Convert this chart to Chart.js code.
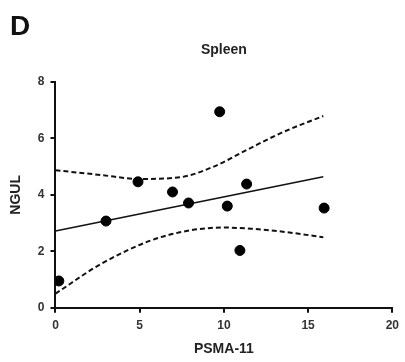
<!DOCTYPE html>
<html lang="en">
<head>
    <meta charset="UTF-8">
    <title>Spleen</title>
    <script src="https://cdn.jsdelivr.net/npm/chart.js"></script>
    <style>
        body {
            margin: 0;
            background: #fff;
            font-family: "Liberation Sans", Arial, sans-serif;
        }
        .wrap {
            position: relative;
            width: 405px;
            height: 362px;
        }
        .panel {
            position: absolute;
            left: 10px;
            top: 10px;
            font-size: 28px;
            font-weight: bold;
            color: #111;
        }
    </style>
</head>
<body>
    <div class="wrap">
        <canvas id="scatter" width="405" height="362"></canvas>
        <div class="panel">D</div>
    </div>

    <script>
        // measured points
        const psma = [0.2, 3.0, 4.9, 6.95, 7.9, 9.75, 10.2, 11.35, 10.95, 15.95];
        const ngul = [0.95, 3.07, 4.46, 4.1, 3.71, 6.94, 3.6, 4.38, 2.03, 3.53];

        // fitted line
        const fitX = [0, 15.9];
        const fitY = [2.72, 4.64];

        // 95% band
        const upperX = [0, 2.7, 5.0, 7.4, 9.4, 11.4, 13.4, 15.9];
        const upperY = [4.87, 4.7, 4.56, 4.62, 5.0, 5.6, 6.19, 6.79];
        const lowerX = [0, 2.7, 5.65, 8.0, 10.0, 11.6, 13.4, 15.9];
        const lowerY = [0.5, 1.55, 2.38, 2.74, 2.84, 2.8, 2.7, 2.5];

        const xTicks = [0, 5, 10, 15, 20];
        const yTicks = [0, 2, 4, 6, 8];

        function pairs(xs, ys) {
            return xs.map((x, i) => ({ x: x, y: ys[i] }));
        }

        const tickFont = { family: "Liberation Sans", size: 12, weight: 'bold' };
        const titleFont = { family: "Liberation Sans", size: 14, weight: 'bold' };

        new Chart(document.getElementById('scatter'), {
            type: 'scatter',
            data: {
                datasets: [
                    {
                        data: pairs(psma, ngul),
                        backgroundColor: '#000',
                        borderColor: '#000',
                        pointRadius: 5
                    },
                    {
                        data: pairs(fitX, fitY),
                        showLine: true,
                        borderColor: '#111',
                        borderWidth: 1.6,
                        pointRadius: 0
                    },
                    {
                        data: pairs(upperX, upperY),
                        showLine: true,
                        borderColor: '#111',
                        borderWidth: 2,
                        borderDash: [5, 3],
                        cubicInterpolationMode: 'monotone',
                        pointRadius: 0
                    },
                    {
                        data: pairs(lowerX, lowerY),
                        showLine: true,
                        borderColor: '#111',
                        borderWidth: 2,
                        borderDash: [5, 3],
                        cubicInterpolationMode: 'monotone',
                        pointRadius: 0
                    }
                ]
            },
            options: {
                responsive: false,
                animation: false,
                layout: { padding: { left: 8, right: 12, top: 10, bottom: 4 } },
                plugins: {
                    legend: { display: false },
                    tooltip: { enabled: false },
                    title: {
                        display: true,
                        text: 'Spleen',
                        fullSize: false,
                        color: '#222',
                        font: titleFont,
                        padding: { top: 32, bottom: 23 }
                    }
                },
                scales: {
                    x: {
                        type: 'linear',
                        min: 0,
                        max: 20,
                        afterBuildTicks: s => { s.ticks = xTicks.map(v => ({ value: v })); },
                        ticks: { color: '#333', font: tickFont, padding: 6 },
                        grid: { drawOnChartArea: false, tickLength: 5, color: '#111', lineWidth: 2 },
                        border: { color: '#111', width: 2 },
                        title: { display: true, text: 'PSMA-11', color: '#222', font: titleFont, padding: { top: 2, bottom: 0 } }
                    },
                    y: {
                        min: 0,
                        max: 8,
                        afterBuildTicks: s => { s.ticks = yTicks.map(v => ({ value: v })); },
                        ticks: { color: '#333', font: tickFont, padding: 6 },
                        grid: { drawOnChartArea: false, tickLength: 5, color: '#111', lineWidth: 2 },
                        border: { color: '#111', width: 2 },
                        title: { display: true, text: 'NGUL', color: '#222', font: titleFont, padding: { top: 0, bottom: 7 } }
                    }
                }
            }
        });
    </script>
</body>
</html>
